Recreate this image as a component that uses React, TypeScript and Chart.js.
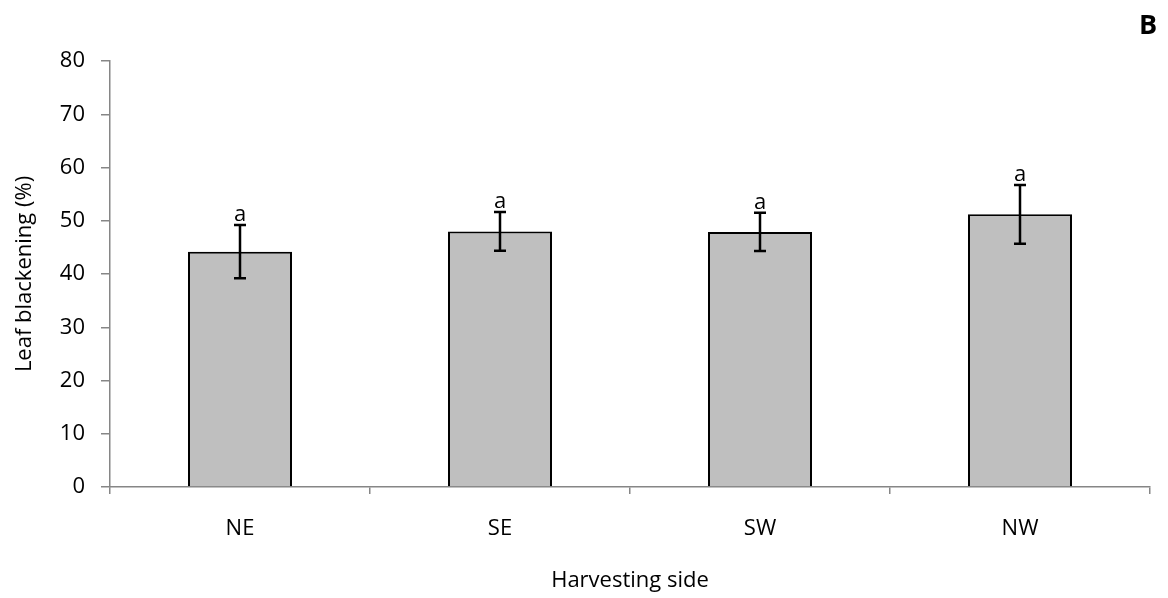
import React, { useEffect, useRef } from "react";
import { Chart, registerables } from "chart.js";

Chart.register(...registerables);

const categories = ["NE", "SE", "SW", "NW"];
const means = [44.2, 48.0, 47.9, 51.2];
const errors = [5.0, 3.65, 3.6, 5.5];
const letters = ["a", "a", "a", "a"];
const yTicks = [0, 10, 20, 30, 40, 50, 60, 70, 80];
const panelLabel = "B";
const xTitle = "Harvesting side";
const yTitle = "Leaf blackening (%)";

const FONT = "'Open Sans', 'Noto Sans', sans-serif";
const AXIS = "#868686";
const FS = 22;

const overlayPlugin = {
  id: "overlay",
  afterDatasetsDraw(chart: any) {
    const ctx = chart.ctx;
    const meta = chart.getDatasetMeta(0);
    const y = chart.scales.y;
    ctx.save();
    ctx.strokeStyle = "#000";
    ctx.lineWidth = 2.5;
    meta.data.forEach((bar: any, i: number) => {
      const x = bar.x;
      const top = y.getPixelForValue(means[i] + errors[i]);
      const bot = y.getPixelForValue(means[i] - errors[i]);
      ctx.beginPath();
      ctx.moveTo(x, top);
      ctx.lineTo(x, bot);
      ctx.moveTo(x - 6, top);
      ctx.lineTo(x + 6, top);
      ctx.moveTo(x - 6, bot);
      ctx.lineTo(x + 6, bot);
      ctx.stroke();
      ctx.fillStyle = "#000";
      ctx.font = `${FS}px ${FONT}`;
      ctx.textAlign = "center";
      ctx.textBaseline = "alphabetic";
      ctx.fillText(letters[i], x, top - 4);
    });
    ctx.font = `bold 27px ${FONT}`;
    ctx.textAlign = "center";
    ctx.textBaseline = "middle";
    ctx.fillStyle = "#000";
    ctx.fillText(panelLabel, 1148, 26);
    ctx.restore();
  },
};

export default function App() {
  const ref = useRef<HTMLCanvasElement | null>(null);
  useEffect(() => {
    if (!ref.current) return;
    const chart = new Chart(ref.current, {
      type: "bar",
      data: {
        labels: categories,
        datasets: [
          {
            data: means,
            backgroundColor: "#BFBFBF",
            borderColor: "#000000",
            borderWidth: 2,
            barPercentage: 0.4,
            categoryPercentage: 1,
          },
        ],
      },
      options: {
        responsive: false,
        animation: false,
        events: [],
        layout: { padding: { top: 61, right: 18, left: 0, bottom: 0 } },
        plugins: { legend: { display: false }, tooltip: { enabled: false } },
        scales: {
          x: {
            grid: {
              display: true,
              offset: true,
              drawOnChartArea: false,
              drawTicks: true,
              tickLength: 7,
              color: AXIS,
              lineWidth: 1.5,
            },
            border: { display: true, color: AXIS, width: 1.5 },
            ticks: { color: "#000", font: { family: FONT, size: FS }, padding: 22 },
            title: {
              display: true,
              text: xTitle,
              color: "#000",
              font: { family: FONT, size: FS },
              padding: { top: 0, bottom: 4 },
            },
            afterFit(scale: any) {
              scale.height = 111;
            },
          },
          y: {
            min: 0,
            max: 80,
            afterBuildTicks(scale: any) {
              scale.ticks = yTicks.map((v) => ({ value: v }));
            },
            grid: {
              display: true,
              drawOnChartArea: false,
              drawTicks: true,
              tickLength: 9,
              color: AXIS,
              lineWidth: 1.5,
            },
            border: { display: true, color: AXIS, width: 1.5 },
            ticks: { color: "#000", font: { family: FONT, size: FS }, padding: 16 },
            title: {
              display: true,
              text: yTitle,
              color: "#000",
              font: { family: FONT, size: FS },
              padding: { top: 12, bottom: 0 },
            },
            afterFit(scale: any) {
              scale.width = 110;
            },
          },
        },
      },
      plugins: [overlayPlugin],
    });
    return () => chart.destroy();
  }, []);
  return (
    <div style={{ position: "fixed", left: 0, top: 0, width: 1168, height: 598, background: "#fff" }}>
      <canvas ref={ref} width={1168} height={598} style={{ display: "block" }} />
    </div>
  );
}
